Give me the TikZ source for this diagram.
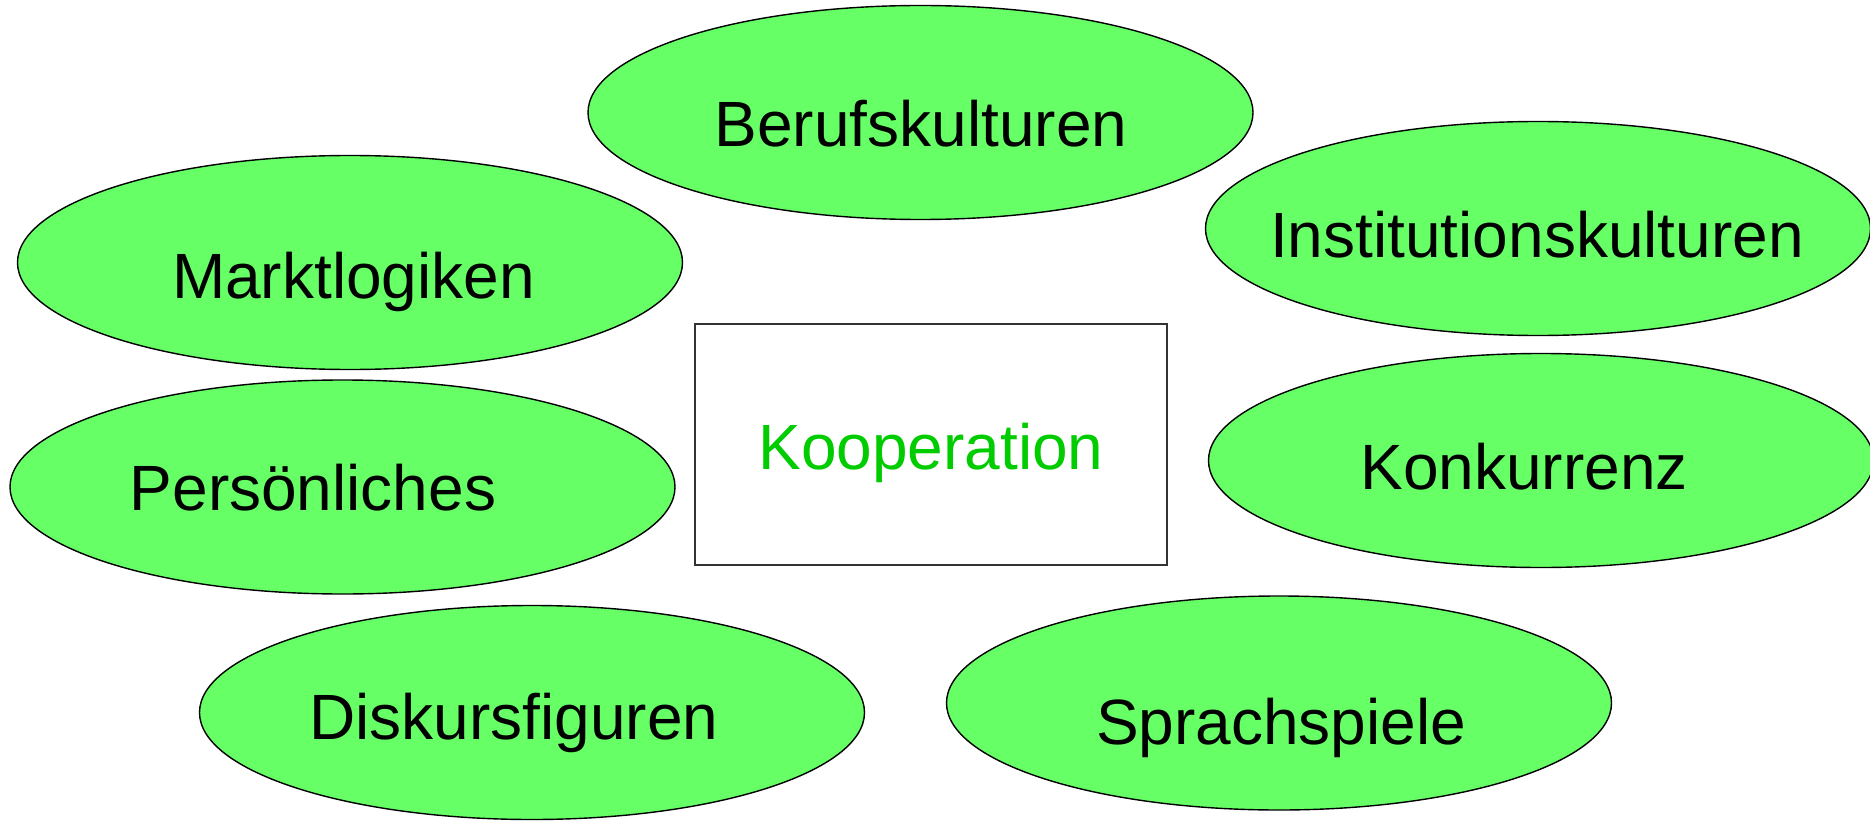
\documentclass[tikz,border=0pt]{standalone}
\usepackage{fontspec}
\setmainfont{Liberation Sans}
\usetikzlibrary{shapes.geometric}
\definecolor{blobfill}{HTML}{66FF66}
\definecolor{koopgreen}{HTML}{00CC00}
\definecolor{rectline}{HTML}{333333}
\tikzset{
  blob/.style={ellipse, draw=black, line width=1.4pt, fill=blobfill, inner sep=0pt,
    minimum width=665pt, minimum height=214pt},
  lbl/.style={anchor=base, inner sep=0pt, font=\fontsize{64}{70}\selectfont},
  koopbox/.style={rectangle, draw=rectline, line width=1.6pt, fill=white, inner sep=0pt,
    minimum width=472pt, minimum height=241pt}
}
\begin{document}
\begin{tikzpicture}[x=1pt,y=-1pt]
\useasboundingbox (0,0) rectangle (1870,821);
\fill[white] (0,0) rectangle (1870,821);
\node[blob] (beruf) at (920.5,112.5) {};
\node[blob] (inst) at (1538,228.5) {};
\node[blob] (markt) at (350,262.5) {};
\node[blob] (konk) at (1541,460.5) {};
\node[blob] (pers) at (342.5,487) {};
\node[blob] (disk) at (532,712.5) {};
\node[blob] (sprach) at (1279,703) {};
\node[koopbox] (koop) at (931,444.5) {};
\node[lbl] (beruft) at (921,147) {Berufskulturen};
\node[lbl] (instt) at (1537,257) {Institutionskulturen};
\node[lbl] (marktt) at (353.5,298) {Marktlogiken};
\node[lbl] (konkt) at (1524,489) {Konkurrenz};
\node[lbl] (perst) at (313,510) {Persönliches};
\node[lbl] (diskt) at (514,739) {Diskursfiguren};
\node[lbl] (sprt) at (1281,744) {Sprachspiele};
\node[lbl, text=koopgreen] (koopt) at (931,469) {Kooperation};
\end{tikzpicture}
\end{document}
